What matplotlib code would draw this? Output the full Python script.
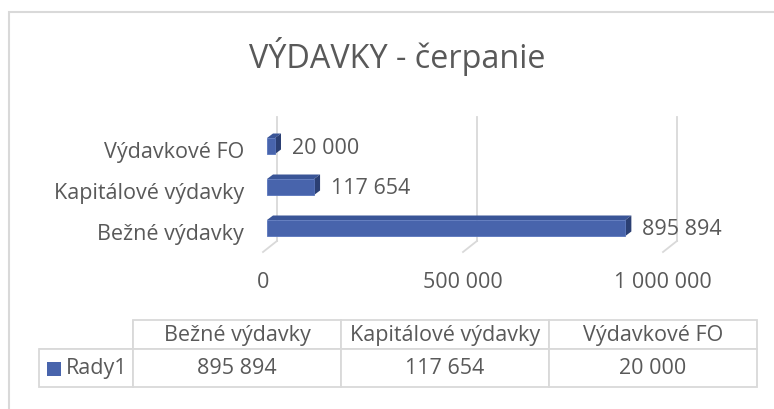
import matplotlib
matplotlib.use("Agg")
import matplotlib.pyplot as plt
from matplotlib.patches import Rectangle, Polygon
from matplotlib.lines import Line2D

# ---- data ----
categories = ["Bežné výdavky", "Kapitálové výdavky", "Výdavkové FO"]
values = [895894, 117654, 20000]
series_name = "Rady1"
xticks = [0, 500000, 1000000]
title = "VÝDAVKY - čerpanie"

def fmt(v):
    return f"{v:,}".replace(",", " ")

# ---- style ----
FONT = "Open Sans"
TXT = "#595959"
GRID = "#D9D9D9"
FRONT = "#4864AC"
TOP = "#3A5597"
SIDE = "#2B3F73"
FS = 15.5

plt.rcParams["font.family"] = [FONT, "DejaVu Sans"]

W, H = 774, 410
fig = plt.figure(figsize=(W / 100, H / 100), dpi=100)
fig.patch.set_facecolor("white")

def fx(px):
    return px / W

def fy(py):
    return 1 - py / H

# outer chart border
fig.add_artist(Rectangle((fx(9), fy(430)), fx(800 - 9), fy(13) - fy(430),
                         transform=fig.transFigure, fill=False,
                         edgecolor=GRID, lw=1.5))

# title
fig.text(fx(397), fy(68), title, ha="center", va="baseline",
         fontsize=23.3, color=TXT)

# plot axes (front floor plane)
ax_l, ax_r, ax_t, ax_b = 263, 663, 118, 253
ax = fig.add_axes([fx(ax_l), fy(ax_b), fx(ax_r - ax_l), fy(ax_t) - fy(ax_b)])
ax.set_xlim(0, 1000000)
ppx = (ax_r - ax_l) / 1000000.0     # px per data x
ppy = 41.0                           # px per category unit
ylo = -(ax_b - 232) / ppy
yhi = 2 + (150 - ax_t) / ppy
ax.set_ylim(ylo, yhi)
for s in ax.spines.values():
    s.set_visible(False)
ax.set_facecolor("none")

def dxd(px):
    return px / ppx

def dyd(px):
    return px / ppy

# gridlines: back wall + floor slant
wall = 14
for v in xticks:
    ax.add_line(Line2D([v + dxd(wall), v + dxd(wall)],
                       [ylo + dyd(wall * 0.79), yhi],
                       color=GRID, lw=1.3, clip_on=False, zorder=1))
    ax.add_line(Line2D([v, v + dxd(wall)], [ylo, ylo + dyd(wall * 0.79)],
                       color=GRID, lw=1.3, clip_on=False, zorder=1))

# 3D bars
h = 16 / ppy
d0, dep = 4, 6
for i, v in enumerate(values):
    x0 = dxd(d0)
    yb = i - h / 2 + dyd(d0 * 0.75)
    yt = yb + h
    ex, ey = dxd(dep), dyd(dep * 0.75)
    ax.add_patch(Polygon([(x0, yt), (x0 + v, yt), (x0 + v + ex, yt + ey), (x0 + ex, yt + ey)],
                         closed=True, facecolor=TOP, edgecolor="none", zorder=3, clip_on=False))
    ax.add_patch(Polygon([(x0 + v, yb), (x0 + v, yt), (x0 + v + ex, yt + ey), (x0 + v + ex, yb + ey)],
                         closed=True, facecolor=SIDE, edgecolor="none", zorder=3, clip_on=False))
    ax.barh(i + dyd(d0 * 0.75), v, height=h, left=x0, color=FRONT,
            edgecolor="#5A76BC", linewidth=0.6, zorder=4)
    ax.annotate(fmt(v), xy=(v, i), xytext=(21 * 0.72, 2.0 * 0.72),
                textcoords="offset points", ha="left", va="center",
                fontsize=FS, color=TXT, annotation_clip=False)

ax.set_yticks(range(len(categories)))
ax.set_yticklabels(categories)
ax.set_xticks(xticks)
ax.set_xticklabels([fmt(v) for v in xticks])
ax.tick_params(axis="y", length=0, pad=19 * 0.72, labelsize=FS, labelcolor=TXT)
ax.tick_params(axis="x", length=0, pad=19 * 0.72, labelsize=FS, labelcolor=TXT)

# data table
t_l, t_r, t_t, t_b = 39, 757, 321, 388
tax = fig.add_axes([fx(t_l), fy(t_b), fx(t_r - t_l), fy(t_t) - fy(t_b)])
tax.axis("off")
first_w = 94
col_w = (t_r - t_l - first_w) / len(categories)
cw = [first_w / (t_r - t_l)] + [col_w / (t_r - t_l)] * len(categories)
cell_text = [[""] + categories, [series_name] + [fmt(v) for v in values]]
tbl = tax.table(cellText=cell_text, colWidths=cw, bbox=[0, 0, 1, 1],
                cellLoc="center")
tbl.auto_set_font_size(False)
row_h = [29, 38]
for (r, c), cell in tbl.get_celld().items():
    cell.set_edgecolor(GRID)
    cell.set_linewidth(1.3)
    cell.set_height(row_h[r] / (t_b - t_t))
    cell.get_text().set_fontsize(FS)
    cell.get_text().set_color(TXT)
    if r == 0 and c == 0:
        cell.visible_edges = "BR"
    if r == 1 and c == 0:
        cell.get_text().set_text("")
# series label with legend key
key_x0 = (47 - t_l) / (t_r - t_l)
key_w = 14 / (t_r - t_l)
key_h = 14 / (t_b - t_t)
row_mid = 1 - (29 + 38 / 2) / (t_b - t_t)
tax.add_patch(Rectangle((key_x0, row_mid - key_h / 2 - 1 / (t_b - t_t)), key_w, key_h,
                        transform=tax.transAxes, facecolor=FRONT, edgecolor="none",
                        clip_on=False))
tax.text((66 - t_l) / (t_r - t_l), row_mid, series_name, transform=tax.transAxes,
         ha="left", va="center", fontsize=FS, color=TXT)

fig.savefig("out.png", dpi=100, facecolor="white")
